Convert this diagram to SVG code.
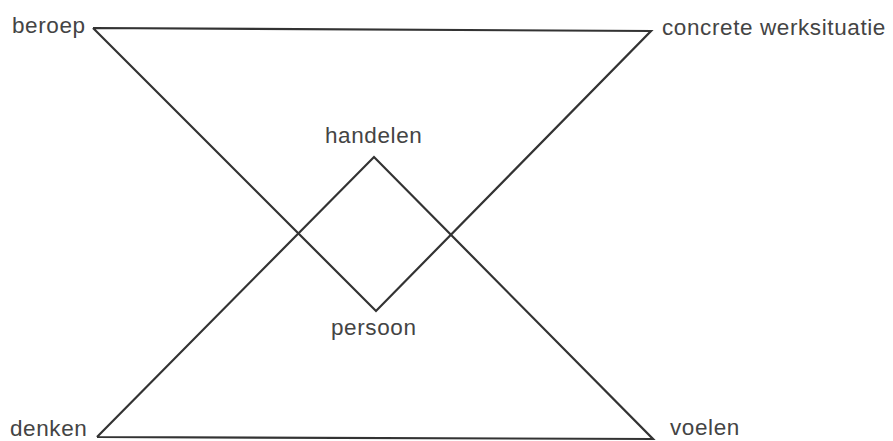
<svg xmlns="http://www.w3.org/2000/svg" width="893" height="441" viewBox="0 0 893 441">
<style>
.l{fill:none;stroke:#333;stroke-width:2.2;stroke-linejoin:miter}
.t{font-family:"Liberation Sans",Arial,sans-serif;font-size:22.5px;letter-spacing:0.6px;fill:#444}
</style>
<rect width="893" height="441" fill="#fff"/>
<g id="connectors">
<polyline class="l" points="93,28 376,311 651,31 93,28"/>
<polyline class="l" points="97,437 374,157 653,439 97,437"/>
</g>
<g id="beroep"><text class="t" x="12" y="33">beroep</text></g>
<g id="concrete-werksituatie"><text class="t" x="662" y="35">concrete werksituatie</text></g>
<g id="handelen"><text class="t" x="325" y="143">handelen</text></g>
<g id="persoon"><text class="t" x="331" y="335">persoon</text></g>
<g id="denken"><text class="t" x="10" y="436">denken</text></g>
<g id="voelen"><text class="t" x="670" y="435">voelen</text></g>
</svg>
